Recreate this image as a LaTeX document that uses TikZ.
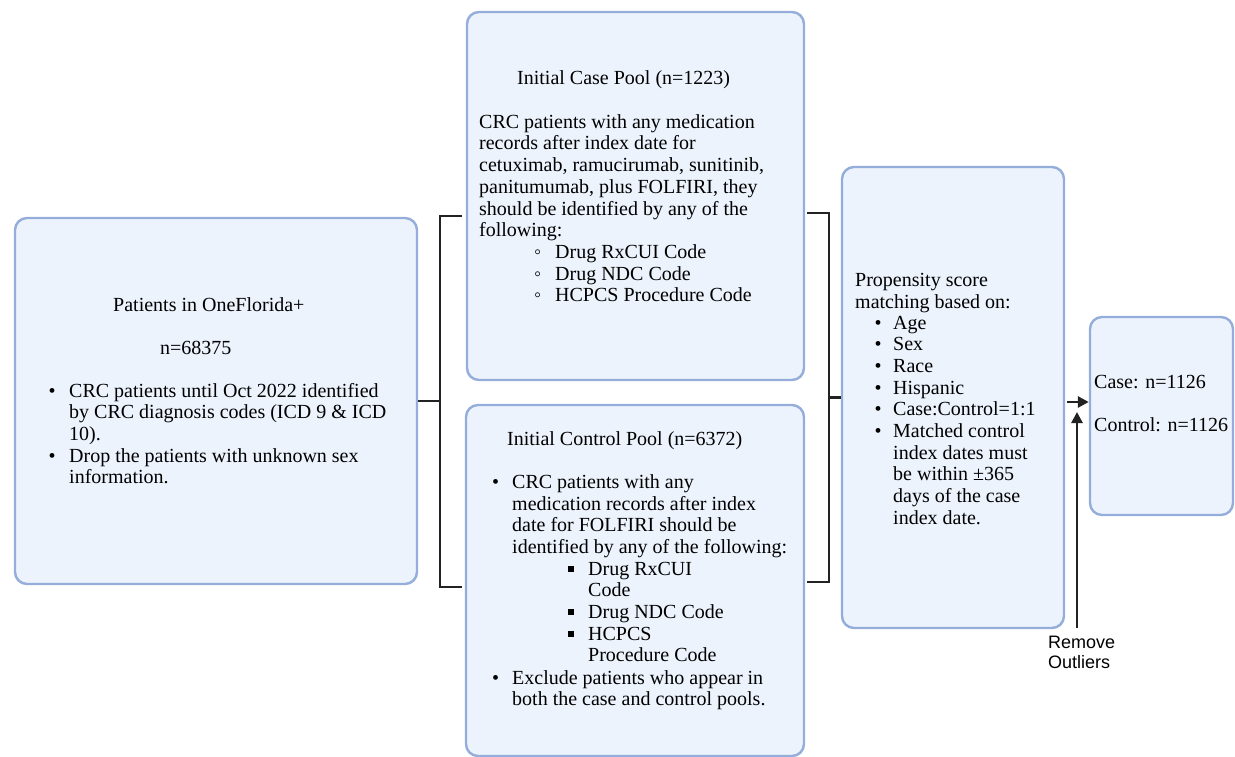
\documentclass[tikz,border=0pt]{standalone}
\usepackage{fontspec}
\setmainfont{Liberation Serif}
\setsansfont{Liberation Sans}
\usetikzlibrary{arrows.meta}

\definecolor{boxfill}{RGB}{236,243,252}
\definecolor{boxline}{RGB}{148,173,218}
\definecolor{linkcol}{RGB}{34,34,34}

\newcommand{\lines}[1]{\begin{tabular}[t]{@{}l@{}}#1\end{tabular}}
\newcommand{\blist}[2]{\begin{tabular}[t]{@{}p{#1}@{}l@{}}#2\end{tabular}}
\newcommand{\sqbul}{\rule[3pt]{6pt}{6pt}}
\newcommand{\circitem}[1]{\hspace*{55pt}\makebox[21pt][l]{◦}#1}

\tikzset{
  box/.style={draw=boxline, fill=boxfill, line width=2.4pt, rounded corners=12pt, inner sep=0},
  txt/.style={anchor=base west, inner sep=0, font=\fontsize{20}{21.7}\selectfont},
  link/.style={draw=linkcol, line width=2.6pt},
  arr/.style={link, -{Triangle[length=11pt,width=11pt]}}
}

\begin{document}
\begin{tikzpicture}[x=1pt,y=-1pt]
\useasboundingbox (0,0) rectangle (1235,757);

% boxes
\node[box, minimum width=402pt, minimum height=366pt] (src) at (216,401) {};
\node[box, minimum width=337pt, minimum height=368pt] (case) at (635.5,196) {};
\node[box, minimum width=338pt, minimum height=351pt] (ctrl) at (635,580.5) {};
\node[box, minimum width=222pt, minimum height=461pt] (psm) at (953,397.5) {};
\node[box, minimum width=143pt, minimum height=198pt] (final) at (1161.5,416) {};

% source cohort
\node[txt] (srctitle) at (113,311) {Patients in OneFlorida+};
\node[txt] (srcn) at (160,354) {n=68375};
\node[txt] (srclist) at (48.5,397) {\blist{20.5pt}{\textbullet & CRC patients until Oct 2022 identified\\
  & by CRC diagnosis codes (ICD 9 \& ICD\\
  & 10).\\
  \textbullet & Drop the patients with unknown sex\\
  & information.}};

% case pool
\node[txt] (casetitle) at (517,85) {Initial Case Pool (n=1223)};
\node[txt] (casetext) at (479,128.3) {\lines{CRC patients with any medication\\
  records after index date for\\
  cetuximab, ramucirumab, sunitinib,\\
  panitumumab, plus FOLFIRI, they\\
  should be identified by any of the\\
  following:\\
  \circitem{Drug RxCUI Code}\\
  \circitem{Drug NDC Code}\\
  \circitem{HCPCS Procedure Code}}};

% control pool
\node[txt] (ctrltitle) at (507,445.7) {Initial Control Pool (n=6372)};
\node[txt] (ctrltext) at (492,488.3) {\blist{20pt}{\textbullet & CRC patients with any\\
  & medication records after index\\
  & date for FOLFIRI should be\\
  & identified by any of the following:}};
\node[txt] (ctrlcodes) at (568,575) {\blist{20pt}{\sqbul & Drug RxCUI\\
  & Code\\
  \sqbul & Drug NDC Code\\
  \sqbul & HCPCS\\
  & Procedure Code}};
\node[txt] (ctrlexcl) at (492,684) {\blist{20pt}{\textbullet & Exclude patients who appear in\\
  & both the case and control pools.}};

% matching
\node[txt] (psmtitle) at (855,286.7) {\lines{Propensity score\\ matching based on:}};
\node[txt] (psmlist) at (874.5,329) {\blist{18.5pt}{\textbullet & Age\\
  \textbullet & Sex\\
  \textbullet & Race\\
  \textbullet & Hispanic\\
  \textbullet & Case:Control=1:1\\
  \textbullet & Matched control\\
  & index dates must\\
  & be within ±365\\
  & days of the case\\
  & index date.}};

% result
\node[txt] (finaltext) at (1094,388.3) {\lines{Case: n=1126\\ \\ Control: n=1126}};
\node[txt, font=\sffamily\fontsize{18}{20.5}\selectfont] (outl) at (1048,648) {\lines{Remove\\ Outliers}};

% connectors
\coordinate (ljoin) at (440,401);
\coordinate (ltop) at (462,216);
\coordinate (lbot) at (462,587);
\draw[link] (src.east) -- (ljoin);
\draw[link] (ltop) -| (ljoin) |- (lbot);

\coordinate (rtop) at (807,213);
\coordinate (rbot) at (807,582);
\coordinate (rjoin) at (829,397.5);
\draw[link] (rtop) -| (rjoin) |- (rbot);
\draw[link] (rjoin) -- (psm.west);

\coordinate (mtail) at (1067,402);
\draw[arr] (mtail) -- (final.west |- mtail);
\coordinate (otail) at (1077,628);
\coordinate (otip) at (1077,412);
\draw[arr] (otail) -- (otip);
\end{tikzpicture}
\end{document}
